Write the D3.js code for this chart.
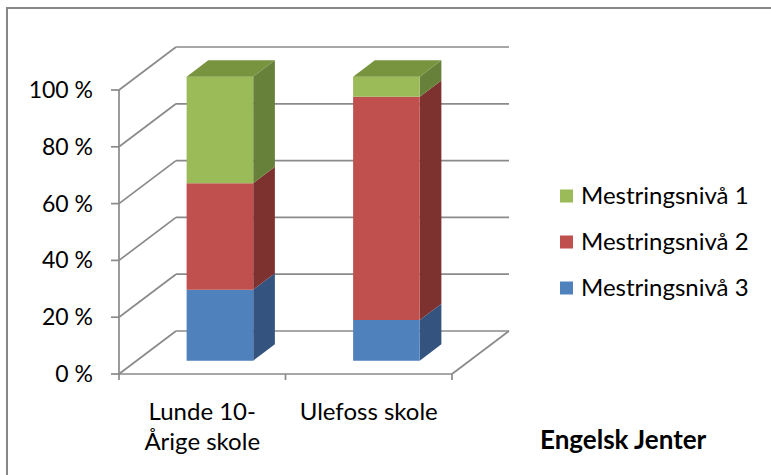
<!DOCTYPE html>
<html>
<head>
<meta charset="utf-8">
<script src="https://cdn.jsdelivr.net/npm/d3@7"></script>
<style>
  html, body { margin: 0; padding: 0; background: #fff; }
  svg { display: block; }
  text { font-family: Lato, "Open Sans", sans-serif; fill: #000; }
</style>
</head>
<body>
<svg id="chart" width="771" height="475"></svg>
<script>
// ---- data ----
const categories = ["Lunde 10-Årige skole", "Ulefoss skole"];
const categoryLabelLines = [["Lunde 10-", "Årige skole"], ["Ulefoss skole"]];
const seriesNames = ["Mestringsnivå 1", "Mestringsnivå 2", "Mestringsnivå 3"];
const mestring1 = [37.5, 7.1];
const mestring2 = [37.5, 78.6];
const mestring3 = [25.0, 14.3];
const yTicks = [0, 20, 40, 60, 80, 100];
const yTickLabels = ["0 %", "20 %", "40 %", "60 %", "80 %", "100 %"];
const chartTitle = "Engelsk Jenter";

// ---- styles ----
const frontColors = {"Mestringsnivå 1": "#9BBB59", "Mestringsnivå 2": "#C0504D", "Mestringsnivå 3": "#4F81BD"};
const sideColors  = {"Mestringsnivå 1": "#67803A", "Mestringsnivå 2": "#7E3230", "Mestringsnivå 3": "#34547F"};
const topColors   = {"Mestringsnivå 1": "#78943F", "Mestringsnivå 2": "#973C3A", "Mestringsnivå 3": "#3E6394"};
const gridColor = "#8a8a8a";

const svg = d3.select("#chart");

// frame
svg.append("rect").attr("x", 7).attr("y", 8).attr("width", 800).attr("height", 500)
  .attr("fill", "none").attr("stroke", "#878787").attr("stroke-width", 2);

// ---- 3D geometry ----
const X0 = 119, X1 = 452, Y0 = 374, Y1 = 90;
const DX = 57, DY = -43;
const F0 = 0.31, F1 = 0.69;

const x = d3.scaleBand().domain(categories).range([X0, X1]).paddingInner(0.6).paddingOuter(0.3);
const y = d3.scaleLinear().domain([0, 100]).range([Y0, Y1]);
const P = (xf, v, d) => [xf + d * DX, y(v) + d * DY];

const g = svg.append("g");
const line = (a, b) => g.append("line").attr("x1", a[0]).attr("y1", a[1]).attr("x2", b[0]).attr("y2", b[1])
  .attr("stroke", gridColor).attr("stroke-width", 1.7);

// back wall gridlines and left wall diagonals
yTicks.forEach(t => {
  line(P(X0, t, 1), P(X1, t, 1));
  line(P(X0, t, 0), P(X0, t, 1));
});
// floor right edge
line(P(X1, 0, 0), P(X1, 0, 1));
// front axes
line(P(X0, 0, 0), P(X1, 0, 0));
line(P(X0, 0, 0), P(X0, 100, 0));
// y ticks
yTicks.forEach(t => line([X0 - 8, y(t)], [X0, y(t)]));
// x ticks
const step = x.step();
[X0, X0 + step, X1].forEach(xx => line([xx, Y0], [xx, Y0 + 6]));

// y tick labels
g.selectAll("text.ytick").data(yTicks).join("text")
  .attr("class", "ytick")
  .attr("x", 93).attr("y", d => y(d) + 8)
  .attr("text-anchor", "end")
  .attr("font-size", 23)
  .text((d, i) => yTickLabels[i]);

// ---- bars ----
const stackData = categories.map((c, i) => ({
  cat: c,
  "Mestringsnivå 1": mestring1[i],
  "Mestringsnivå 2": mestring2[i],
  "Mestringsnivå 3": mestring3[i]
}));
const stack = d3.stack().keys(["Mestringsnivå 3", "Mestringsnivå 2", "Mestringsnivå 1"]);
const layers = stack(stackData);
const poly = pts => pts.map(p => p.join(",")).join(" ");
const bars = svg.append("g");

categories.forEach((c, ci) => {
  const xlf = x(c), xrf = x(c) + x.bandwidth();
  layers.forEach((layer, li) => {
    const key = layer.key;
    const [v0, v1] = layer[ci];
    const front = [P(xlf, v0, F0), P(xrf, v0, F0), P(xrf, v1, F0), P(xlf, v1, F0)];
    const side = [P(xrf, v0, F0), P(xrf, v0, F1), P(xrf, v1, F1), P(xrf, v1, F0)];
    bars.append("polygon").attr("points", poly(side)).attr("fill", sideColors[key]);
    bars.append("polygon").attr("points", poly(front)).attr("fill", frontColors[key]);
    if (li === layers.length - 1) {
      const top = [P(xlf, v1, F0), P(xrf, v1, F0), P(xrf, v1, F1), P(xlf, v1, F1)];
      bars.append("polygon").attr("points", poly(top)).attr("fill", topColors[key]);
    }
  });
});

// category labels
categories.forEach((c, ci) => {
  const cx = x(c) + x.bandwidth() / 2;
  const t = svg.append("text").attr("text-anchor", "middle").attr("font-size", 24);
  categoryLabelLines[ci].forEach((ln, li) => {
    t.append("tspan").attr("x", cx).attr("y", 420 + li * 30).text(ln);
  });
});

// legend
const legend = svg.append("g");
seriesNames.forEach((s, i) => {
  const cy = 196 + i * 46;
  legend.append("rect").attr("x", 560).attr("y", cy - 6.5).attr("width", 13).attr("height", 13).attr("fill", frontColors[s]);
  legend.append("text").attr("x", 581).attr("y", cy + 8).attr("font-size", 24).text(s);
});

// title
svg.append("text").attr("x", 540).attr("y", 449).attr("font-size", 26).attr("font-weight", "bold").text(chartTitle);
</script>
</body>
</html>
